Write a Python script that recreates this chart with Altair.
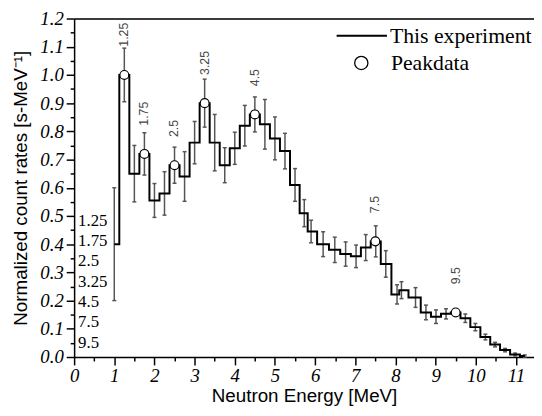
import altair as alt
import pandas as pd

# ---- data ----
energy = [1.00, 1.25, 1.50, 1.75, 2.00, 2.25, 2.50, 2.75, 3.00, 3.25,
          3.50, 3.75, 4.00, 4.25, 4.50, 4.75, 5.00, 5.25, 5.50, 5.73,
          5.90, 6.20, 6.49, 6.76, 7.02, 7.26, 7.51, 7.76, 8.04, 8.15,
          8.50, 8.76, 9.01, 9.26, 9.50, 9.74, 9.99, 10.24, 10.48, 10.73,
          10.98, 11.22]
rate = [0.40, 1.00, 0.65, 0.72, 0.555, 0.58, 0.68, 0.64, 0.76, 0.90,
        0.76, 0.68, 0.74, 0.82, 0.86, 0.825, 0.775, 0.73, 0.61, 0.51,
        0.445, 0.40, 0.38, 0.365, 0.357, 0.388, 0.41, 0.33, 0.222, 0.237,
        0.211, 0.158, 0.143, 0.153, 0.158, 0.1375, 0.106, 0.071, 0.044, 0.0245,
        0.009, 0.0035]
err = [0.20, 0.095, 0.10, 0.075, 0.06, 0.077, 0.064, 0.088, 0.075, 0.085,
       0.10, 0.062, 0.057, 0.072, 0.062, 0.088, 0.076, 0.063, 0.058, 0.048,
       0.04, 0.044, 0.045, 0.043, 0.04, 0.046, 0.055, 0.047, 0.034, 0.03,
       0.035, 0.026, 0.024, 0.018, 0.012, 0.015, 0.013, 0.01, 0.008, 0.006,
       0.005, 0.004]

peak_energy = [1.25, 1.75, 2.5, 3.25, 4.5, 7.5, 9.5]
peak_rate = [1.0, 0.72, 0.68, 0.90, 0.86, 0.41, 0.158]
peak_labels = ["1.25", "1.75", "2.5", "3.25", "4.5", "7.5", "9.5"]

x_ticks = list(range(0, 12))
x_minor = [i + 0.5 for i in range(0, 11)]
y_ticks = [round(i * 0.1, 2) for i in range(0, 13)]
y_minor = [round(i * 0.1 + 0.05, 2) for i in range(0, 12)]

SERIF = "Liberation Serif, Times New Roman, Times, DejaVu Serif, serif"
SANS = "Liberation Sans, Arial, Helvetica, sans-serif"

df = pd.DataFrame({"E": energy, "rate": rate, "err": err})
df["lo"] = df["rate"] - df["err"]
df["hi"] = df["rate"] + df["err"]
df["series"] = "This experiment"

peaks = pd.DataFrame({"E": peak_energy, "rate": peak_rate, "label": peak_labels})
peaks["kind"] = "Peakdata"
peaks["label_y"] = peaks["rate"] + 0.1

listing = pd.DataFrame({"label": peak_labels, "i": list(range(len(peak_labels)))})
listing["y"] = 0.483 - 0.072 * listing["i"]

xs = alt.Scale(domain=[0, 11.45], nice=False, zero=False)
ys = alt.Scale(domain=[0, 1.2], nice=False, zero=False)

common_axis = dict(grid=False, domainColor="black", tickColor="black",
                   labelColor="black", titleColor="black",
                   domainWidth=1.5, tickWidth=1.5)

x_main = alt.Axis(orient="bottom", values=x_ticks, format="d", tickSize=8,
                  labelFont=SERIF, labelFontStyle="italic", labelFontSize=19,
                  labelPadding=2, labelFlush=False,
                  title="Neutron Energy [MeV]", titleFont=SANS, titleFontSize=19,
                  titleFontWeight="normal", titleBaseline="alphabetic", titleY=45,
                  **common_axis)
y_main = alt.Axis(orient="left", values=y_ticks, format=".1f", tickSize=8,
                  labelFont=SERIF, labelFontStyle="italic", labelFontSize=19,
                  labelPadding=3, labelFlush=False,
                  title="Normalized count rates [s-MeV\u207b\u00b9]", titleFont=SANS,
                  titleFontSize=19, titleFontWeight="normal", titlePadding=9,
                  **common_axis)
x_min_ax = alt.Axis(orient="bottom", values=x_minor, tickSize=4, labels=False,
                    domain=False, title=None, grid=False, tickColor="black", tickWidth=1.5)
y_min_ax = alt.Axis(orient="left", values=y_minor, tickSize=4, labels=False,
                    domain=False, title=None, grid=False, tickColor="black", tickWidth=1.5)
x_top_ax = alt.Axis(orient="top", ticks=False, labels=False, title=None, grid=False,
                    domainColor="black", domainWidth=1.5)

# error bars (carry the main axes)
bars = alt.Chart(df).mark_rule(color="#555555", strokeWidth=1.5).encode(
    x=alt.X("E:Q", scale=xs, axis=x_main),
    y=alt.Y("lo:Q", scale=ys, axis=y_main),
    y2="hi:Q",
)
cap_lo = alt.Chart(df).mark_tick(orient="horizontal", size=4, thickness=1.5,
                                 color="#555555", opacity=1).encode(
    x=alt.X("E:Q", scale=xs, axis=None), y=alt.Y("lo:Q", scale=ys, axis=None))
cap_hi = alt.Chart(df).mark_tick(orient="horizontal", size=4, thickness=1.5,
                                 color="#555555", opacity=1).encode(
    x=alt.X("E:Q", scale=xs, axis=None), y=alt.Y("hi:Q", scale=ys, axis=None))

line = alt.Chart(df).mark_line(interpolate="step", strokeWidth=2).encode(
    x=alt.X("E:Q", scale=xs, axis=None),
    y=alt.Y("rate:Q", scale=ys, axis=None),
    color=alt.Color("series:N",
                    scale=alt.Scale(domain=["This experiment"], range=["black"]),
                    legend=alt.Legend(orient="none", legendX=265, legendY=-9,
                                      title=None, symbolType="stroke",
                                      symbolSize=2601, symbolStrokeWidth=2,
                                      symbolStrokeColor="black",
                                      labelFont=SERIF, labelFontSize=22,
                                      labelColor="black", labelOffset=2,
                                      padding=0)),
)

points = alt.Chart(peaks).mark_point(filled=False, fill="white", shape="circle",
                                     strokeWidth=1.2, size=81, opacity=1).encode(
    x=alt.X("E:Q", scale=xs, axis=None),
    y=alt.Y("rate:Q", scale=ys, axis=None),
    stroke=alt.Stroke("kind:N",
                      scale=alt.Scale(domain=["Peakdata"], range=["black"]),
                      legend=alt.Legend(orient="none", legendX=280, legendY=34,
                                        title=None, symbolType="circle",
                                        symbolSize=180,
                                        symbolFillColor="white",
                                        symbolStrokeWidth=1.3,
                                        symbolOpacity=1,
                                        labelFont=SERIF, labelFontSize=22,
                                        labelColor="black", labelOffset=19,
                                        padding=0)),
)

peak_text = alt.Chart(peaks).mark_text(angle=270, align="left", baseline="middle",
                                       font=SANS, fontSize=12.5, color="#444444").encode(
    x=alt.X("E:Q", scale=xs, axis=None),
    y=alt.Y("label_y:Q", scale=ys, axis=None),
    text="label:N",
)

list_text = alt.Chart(listing).mark_text(align="left", baseline="middle",
                                         font=SERIF, fontSize=17, color="black").encode(
    x=alt.value(4),
    y=alt.Y("y:Q", scale=ys, axis=None),
    text="label:N",
)

minor_axes = alt.Chart(df).mark_rule(opacity=0).encode(
    x=alt.X("E:Q", scale=xs, axis=x_min_ax),
    y=alt.Y("rate:Q", scale=ys, axis=y_min_ax),
)
top_axis = alt.Chart(df).mark_rule(opacity=0).encode(
    x=alt.X("E:Q", scale=xs, axis=x_top_ax),
    y=alt.Y("rate:Q", scale=ys, axis=None),
)

chart = alt.layer(
    minor_axes, top_axis, bars, cap_lo, cap_hi, line, points, peak_text, list_text
).resolve_axis(x="independent", y="independent").resolve_legend(
    color="independent", stroke="independent"
).properties(
    width=466, height=343,
    autosize=alt.AutoSizeParams(type="none"),
    padding={"left": 67, "top": 8, "right": 0, "bottom": 49},
).configure_view(stroke=None).configure(background="white")

chart.save("out.html", embed_options={"renderer": "svg", "actions": False})
